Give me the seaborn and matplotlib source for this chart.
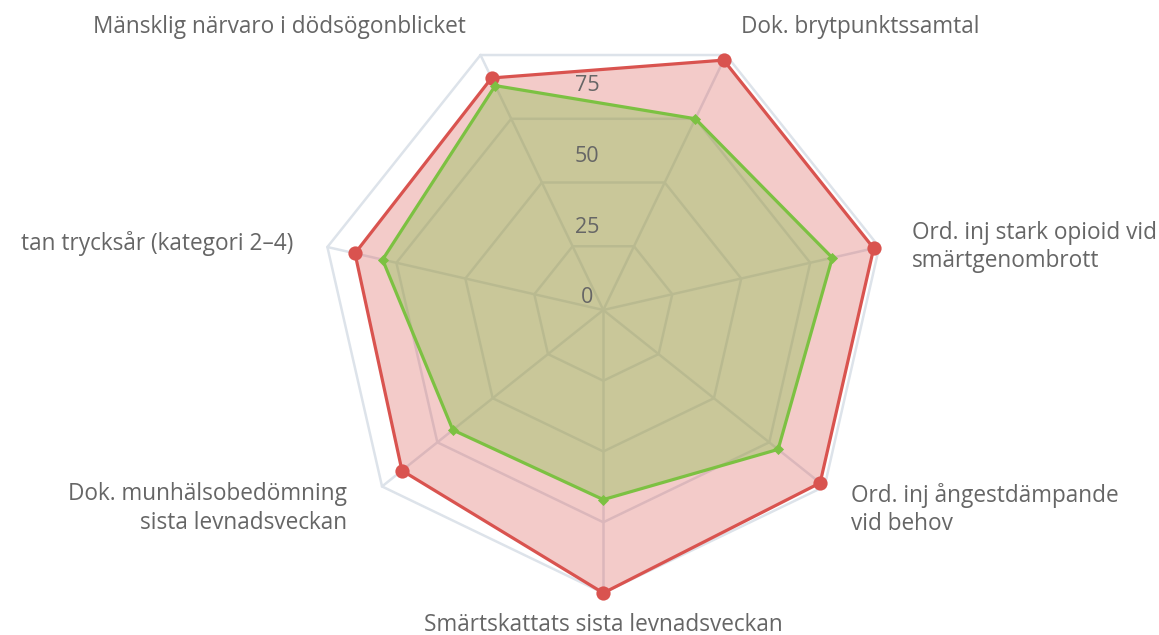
import numpy as np
import pandas as pd
import matplotlib
matplotlib.use("Agg")
import matplotlib.pyplot as plt
import seaborn as sns

# data
categories = [
    "Mänsklig närvaro i dödsögonblicket",
    "Dok. brytpunktssamtal",
    "Ord. inj stark opioid vid\nsmärtgenombrott",
    "Ord. inj ångestdämpande\nvid behov",
    "Smärtskattats sista levnadsveckan",
    "Dok. munhälsobedömning\nsista levnadsveckan",
    "tan trycksår (kategori 2–4)",
]
red_values = [91, 98, 98, 98, 100, 91, 90]
green_values = [88, 75, 83, 79, 67, 68, 80]
ring_ticks = [25, 50, 75, 100]
tick_values = [0, 25, 50, 75]
tick_labels = ["0", "25", "50", "75"]

RED = "#d9534f"
GREEN = "#7cc142"
GRID = "#dde3ea"
TEXT = "#666666"

# label placement (pixel offsets from the outer vertex, alignment)
label_pos = [(-15, 28, "right"), (15, 28, "left"), (33, 0, "left"),
             (26, -23, "left"), (0, -32, "center"), (-35, -22, "right"),
             (-34, 4, "right")]

sns.set_theme(style="white")
plt.rcParams["font.family"] = ["Open Sans", "DejaVu Sans"]

n = len(categories)
theta = np.deg2rad(-180 / n + np.arange(n) * 360 / n)
theta_c = np.append(theta, theta[0])

fig = plt.figure(figsize=(11.59, 6.35), dpi=100)
cx, cy, R = 603.3, 310, 283
ax = fig.add_axes([(cx - R) / 1159, (635 - cy - R) / 635, 2 * R / 1159, 2 * R / 635],
                  projection="polar")
ax.set_theta_zero_location("N")
ax.set_theta_direction(-1)
ax.set_ylim(0, 100)
ax.grid(False)
ax.set_xticks([])
ax.set_yticks([])
ax.spines["polar"].set_visible(False)
ax.set_facecolor("none")

# polygon grid
for t in ring_ticks:
    ax.plot(theta_c, [t] * (n + 1), color=GRID, lw=1.8, zorder=1, clip_on=False)
for th in theta:
    ax.plot([th, th], [0, 100], color=GRID, lw=1.8, zorder=1, clip_on=False)

# datasets
for vals, col, mk, size, alpha in [(red_values, RED, "o", 105, 0.30),
                                   (green_values, GREEN, "D", 32, 0.35)]:
    vc = np.append(vals, vals[0])
    ax.fill(theta_c, vc, color=col, alpha=alpha, lw=0, zorder=2)
    df = pd.DataFrame({"theta": theta_c, "value": vc})
    sns.lineplot(data=df, x="theta", y="value", sort=False, estimator=None,
                 ax=ax, color=col, linewidth=2.3, zorder=3, clip_on=False)
    sns.scatterplot(x=theta, y=vals, ax=ax, color=col, marker=mk, s=size,
                    edgecolor=col, linewidth=0, zorder=4, clip_on=False)
ax.set_xlabel("")
ax.set_ylabel("")

# radial tick labels
for v, lab in zip(tick_values, tick_labels):
    ax.annotate(lab, xy=(0, v), xytext=(-16, 12), textcoords="offset pixels",
                ha="center", va="center", fontsize=15.5, color=TEXT, zorder=5)

# point labels
for th, lab, (dx, dy, ha) in zip(theta, categories, label_pos):
    ax.annotate(lab, xy=(th, 100), xytext=(dx, dy), textcoords="offset pixels",
                ha=ha, va="center", fontsize=16.3, color=TEXT, linespacing=1.25,
                annotation_clip=False)

fig.savefig("out.png", dpi=100)
